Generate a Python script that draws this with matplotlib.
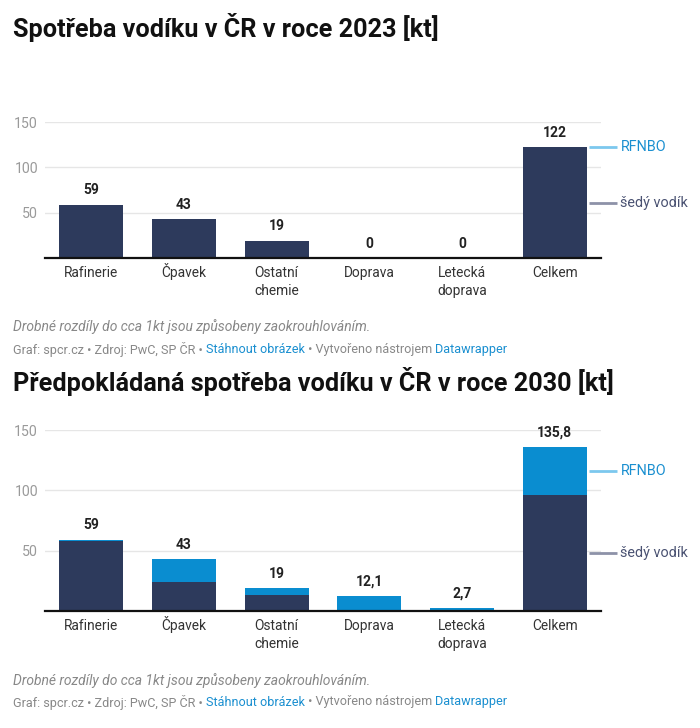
import numpy as np
import matplotlib
matplotlib.use("Agg")
import matplotlib.pyplot as plt

plt.rcParams["font.family"] = ["Roboto", "DejaVu Sans"]

categories = ["Rafinerie", "Čpavek", "Ostatní\nchemie", "Doprava", "Letecká\ndoprava", "Celkem"]

grey_2023 = [59, 43, 19, 0, 0, 122]
rfnbo_2023 = [0, 0, 0, 0, 0, 0]
labels_2023 = ["59", "43", "19", "0", "0", "122"]

grey_2030 = [58, 24, 13, 0, 0, 96]
rfnbo_2030 = [1, 19, 6, 12.1, 2.7, 39.8]
labels_2030 = ["59", "43", "19", "12,1", "2,7", "135,8"]

y_ticks = [50, 100, 150]
series_names = ["RFNBO", "šedý vodík"]

NAVY = "#2d3a5c"
BLUE = "#0a8dd0"
LINK = "#1a8fd0"
GREY_TXT = "#888888"

W, H = 700, 728
fig = plt.figure(figsize=(W / 100, H / 100), dpi=100)


def px_axes(left, top, right, bottom):
    return fig.add_axes([left / W, 1 - bottom / H, (right - left) / W, (bottom - top) / H])


def draw_chart(ax, grey, rfnbo, labels):
    x = np.arange(len(categories))
    ax.bar(x, grey, width=0.69, color=NAVY, zorder=3)
    ax.bar(x, rfnbo, width=0.69, bottom=grey, color=BLUE, zorder=3)
    ax.set_xlim(-0.5, len(categories) - 0.5)
    ax.set_ylim(0, 150)
    ax.set_yticks(y_ticks)
    ax.set_yticklabels([str(t) for t in y_ticks], color="#9a9a9a", fontsize=10.2)
    ax.grid(axis="y", color="#e6e6e6", linewidth=1, zorder=0)
    ax.tick_params(axis="y", length=0, pad=5)
    ax.set_xticks([])
    for s in ["top", "right", "left"]:
        ax.spines[s].set_visible(False)
    ax.spines["bottom"].set_linewidth(1.6)
    ax.spines["bottom"].set_color("#111111")
    ax.spines["bottom"].set_zorder(4)
    ax.set_facecolor("none")

    # category labels, one line at a time on fixed baselines
    for xi, cat in zip(x, categories):
        for k, line in enumerate(cat.split("\n")):
            ax.annotate(line, (xi, 0), xytext=(0, -13.8 - 13.0 * k), textcoords="offset points",
                        ha="center", va="baseline", fontsize=9.9, color="#333333",
                        annotation_clip=False)

    totals = [g + r for g, r in zip(grey, rfnbo)]
    for xi, t, lab in zip(x, totals, labels):
        ax.annotate(lab, (xi, t), xytext=(0, 5.3), textcoords="offset points",
                    ha="center", va="bottom", fontsize=10, fontweight="bold", color="#222222")

    # direct labels next to the last bar
    last = len(categories) - 1
    mids = [grey[last] + rfnbo[last] / 2, grey[last] / 2]
    colors_line = ["#7cc8ee", "#8d92a8"]
    colors_txt = [LINK, "#4a5272"]
    for name, m, cl, ct in zip(series_names, mids, colors_line, colors_txt):
        ax.plot([last + 0.37, last + 0.67], [m, m], color=cl, linewidth=2, clip_on=False,
                solid_capstyle="butt")
        ax.text(last + 0.71, m, name, color=ct, fontsize=10.4, va="center", ha="left")


def chain_text(x_px, y_px, parts, **kw):
    renderer = fig.canvas.get_renderer()
    x = x_px / W
    for txt, col in parts:
        t = fig.text(x, 1 - y_px / H, txt, color=col, va="center", ha="left", **kw)
        bb = t.get_window_extent(renderer=renderer)
        x += bb.width / W


def footer(y_note, y_credit):
    fig.text(13 / W, 1 - y_note / H, "Drobné rozdíly do cca 1kt jsou způsobeny zaokrouhlováním.",
             fontsize=10, style="italic", color=GREY_TXT, va="center")
    chain_text(13, y_credit, [
        ("Graf: spcr.cz • Zdroj: PwC, SP ČR • ", GREY_TXT),
        ("Stáhnout obrázek", LINK),
        (" • Vytvořeno nástrojem ", GREY_TXT),
        ("Datawrapper", LINK),
    ], fontsize=9.05)


fig.text(13 / W, 1 - 28 / H, "Spotřeba vodíku v ČR v roce 2023 [kt]",
         fontsize=18.2, fontweight="bold", color="#111111", va="center")
ax1 = px_axes(45, 122, 601, 258)
draw_chart(ax1, grey_2023, rfnbo_2023, labels_2023)
footer(327, 349)

fig.text(13 / W, 1 - 381 / H, "Předpokládaná spotřeba vodíku v ČR v roce 2030 [kt]",
         fontsize=18.2, fontweight="bold", color="#111111", va="center")
ax2 = px_axes(45, 430, 601, 611)
draw_chart(ax2, grey_2030, rfnbo_2030, labels_2030)
footer(681, 702)

fig.savefig("out.png", dpi=100, facecolor="white")
